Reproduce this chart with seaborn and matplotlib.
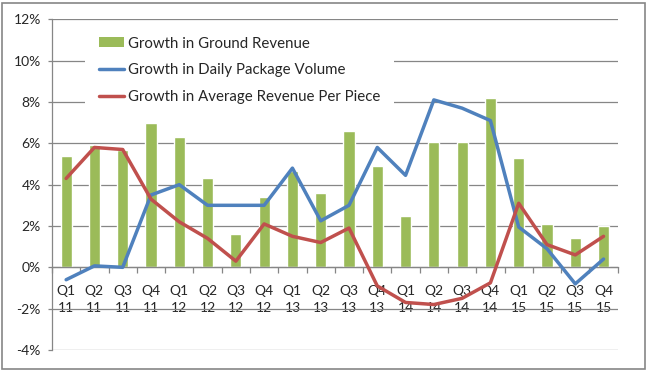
import matplotlib
matplotlib.use("Agg")
import matplotlib.pyplot as plt
import seaborn as sns
import pandas as pd
from matplotlib.patches import Patch, Rectangle
from matplotlib.lines import Line2D
from matplotlib.ticker import FixedLocator, FuncFormatter

quarters = ["Q1", "Q2", "Q3", "Q4"] * 5
years = ["11"] * 4 + ["12"] * 4 + ["13"] * 4 + ["14"] * 4 + ["15"] * 4
ground_revenue = [5.4, 5.9, 5.7, 7.0, 6.3, 4.3, 1.6, 3.4, 4.65, 3.6,
                  6.6, 4.9, 2.5, 6.05, 6.05, 8.2, 5.3, 2.1, 1.4, 2.0]
package_volume = [-0.6, 0.07, 0.0, 3.5, 4.0, 3.0, 3.0, 3.0, 4.8, 2.25,
                  3.0, 5.8, 4.45, 8.1, 7.7, 7.1, 1.95, 0.9, -0.8, 0.4]
revenue_per_piece = [4.3, 5.8, 5.7, 3.3, 2.2, 1.4, 0.3, 2.1, 1.5, 1.2,
                     1.9, -0.9, -1.7, -1.8, -1.5, -0.75, 3.1, 1.1, 0.6, 1.5]

labels = [q + "\n" + y for q, y in zip(quarters, years)]
df = pd.DataFrame({"quarter": labels, "ground": ground_revenue,
                   "volume": package_volume, "rpp": revenue_per_piece})

green = "#9BBB59"
blue = "#4F81BD"
red = "#C0504D"
grid_col = "#868686"

sns.set_style("white")
plt.rcParams["font.family"] = ["Lato", "DejaVu Sans"]

fig = plt.figure(figsize=(6.47, 3.71), dpi=100)
ax = fig.add_axes([52 / 647, 1 - 350 / 371, 565.7 / 647, 330.7 / 371])

sns.barplot(data=df, x="quarter", y="ground", color=green, width=0.39,
            saturation=1, ax=ax, zorder=2)
sns.lineplot(data=df, x="quarter", y="volume", sort=False, color=blue,
             linewidth=2.5, ax=ax, zorder=3)
sns.lineplot(data=df, x="quarter", y="rpp", sort=False, color=red,
             linewidth=2.5, ax=ax, zorder=4)

n = len(labels)
ax.set_xlim(-0.5, n - 0.5)
ax.set_ylim(-4, 12)
ax.set_xlabel("")
ax.set_ylabel("")

# y axis
ax.set_yticks(range(-4, 13, 2))
ax.yaxis.set_major_formatter(FuncFormatter(lambda v, p: f"{int(v)}%"))
ax.grid(axis="y", color=grid_col, linewidth=0.9, zorder=0)
ax.set_axisbelow(True)
ax.tick_params(axis="y", which="major", length=3, width=0.9, color=grid_col,
               direction="out", pad=5, labelsize=10, left=True)

# x axis sitting on 0 with ticks between categories
for s in ["top", "right"]:
    ax.spines[s].set_visible(False)
ax.spines["left"].set_color(grid_col)
ax.spines["left"].set_linewidth(0.9)
ax.spines["bottom"].set_position(("data", 0))
ax.spines["bottom"].set_color(grid_col)
ax.spines["bottom"].set_linewidth(0.9)
ax.xaxis.set_major_locator(FixedLocator(range(n)))
ax.set_xticklabels(labels)
ax.xaxis.set_minor_locator(FixedLocator([i - 0.5 for i in range(n + 1)]))
ax.tick_params(axis="x", which="major", length=0, pad=13, labelsize=10)
ax.tick_params(axis="x", which="minor", length=4, width=0.9, color=grid_col,
               direction="out", bottom=True)
for t in ax.get_xticklabels():
    t.set_linespacing(1.5)

handles = [Patch(facecolor=green, edgecolor="none"),
           Line2D([], [], color=blue, linewidth=2.5),
           Line2D([], [], color=red, linewidth=2.5)]
names = ["Growth in Ground Revenue", "Growth in Daily Package Volume",
         "Growth in Average Revenue Per Piece"]
leg = ax.legend(handles, names, loc="upper left",
                bbox_to_anchor=(85 / 647, 1 - 23 / 371),
                bbox_transform=fig.transFigure, borderaxespad=0,
                frameon=True, fancybox=False, framealpha=1,
                facecolor="white", edgecolor="none", fontsize=10.8,
                handlelength=1.7, handleheight=0.6, handletextpad=0.25,
                labelspacing=0.85, borderpad=0.9)
leg.set_zorder(5)

fig.patches.append(Rectangle((2 / 647, 2 / 371), 643 / 647, 366 / 371,
                             transform=fig.transFigure, fill=False,
                             edgecolor=grid_col, linewidth=1.2))

fig.savefig("out.png", dpi=100, facecolor="white")
